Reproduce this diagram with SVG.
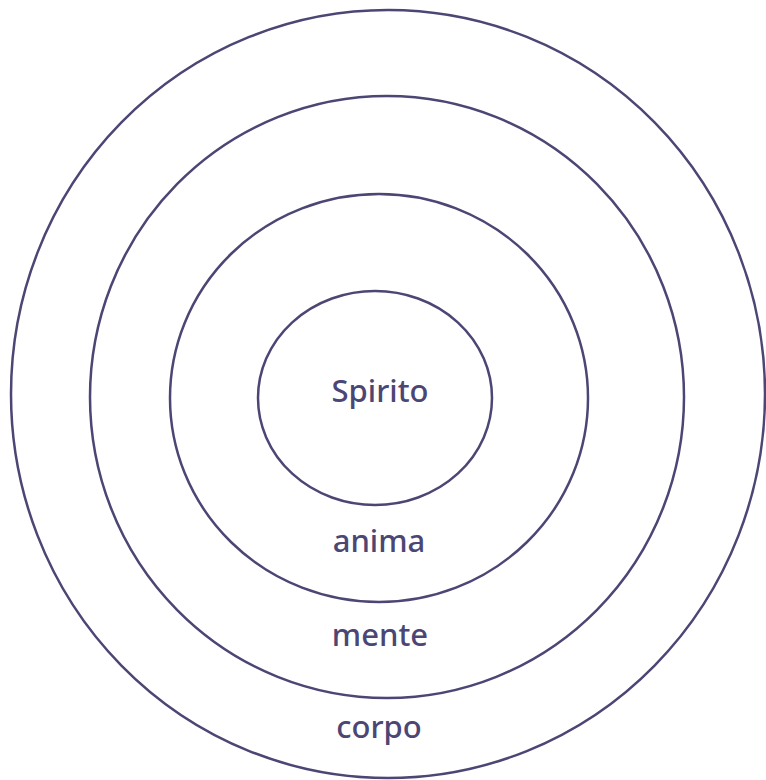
<svg xmlns="http://www.w3.org/2000/svg" width="766" height="780" viewBox="0 0 766 780">
<style>
.ring{fill:none;stroke:#4b4674;stroke-width:2.5}
.lbl{font-family:"Comic Sans MS","Noto Sans","DejaVu Sans",sans-serif;font-size:31px;font-weight:500;fill:#4b4674;text-anchor:middle}
</style>
<rect width="766" height="780" fill="#fff"/>
<g id="corpo"><ellipse class="ring" cx="388" cy="394" rx="377" ry="384"/><text class="lbl" x="379" y="738">corpo</text></g>
<g id="mente"><ellipse class="ring" cx="387" cy="397" rx="297" ry="301"/><text class="lbl" x="380" y="646">mente</text></g>
<g id="anima"><ellipse class="ring" cx="379" cy="398" rx="209" ry="204"/><text class="lbl" x="379" y="552">anima</text></g>
<g id="spirito"><ellipse class="ring" cx="375" cy="398" rx="117" ry="107"/><text class="lbl" x="380" y="402">Spirito</text></g>
<g id="connectors"/>
</svg>
